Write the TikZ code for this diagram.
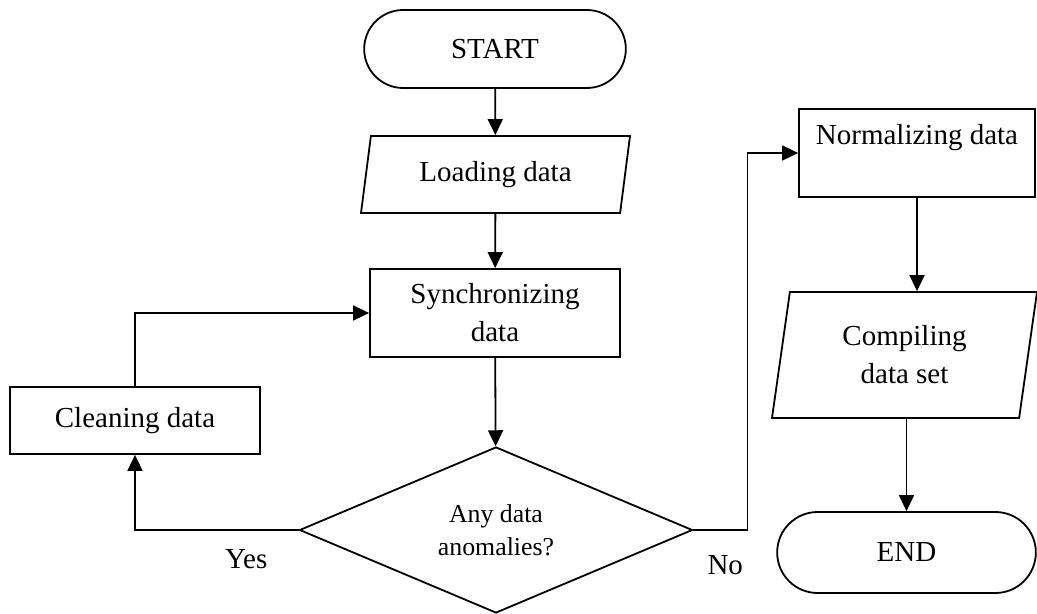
\documentclass[tikz,border=0pt]{standalone}
\usepackage{fontspec}
\setmainfont{Liberation Serif}
\usetikzlibrary{shapes.geometric,shapes.misc,arrows.meta}

\begin{document}
\begin{tikzpicture}[x=0.5pt,y=-0.5pt,line width=0.9pt,
    every node/.style={font=\fontsize{14.5}{19}\selectfont},
    term/.style={draw,rounded rectangle,minimum width=137.5pt,minimum height=39pt},
    proc/.style={draw,rectangle,align=center,minimum width=125pt,minimum height=44pt},
    io/.style={draw,trapezium,trapezium left angle=76,trapezium right angle=104,
        trapezium stretches body,align=center},
    decide/.style={draw,diamond,aspect=2.37,inner sep=1pt,align=center,
        font=\fontsize{12.9}{16.5}\selectfont,minimum width=196.5pt,minimum height=83pt},
    arr/.style={-{Triangle[length=8pt,width=7.5pt]}}]
    \useasboundingbox (0,0) rectangle (1037,614);
    \node[term] (start) at (495,49) {START};
    \node[io,minimum width=134.5pt,minimum height=38.5pt] (load) at (495.5,174.5) {Loading data};
    \node[proc] (sync) at (495,313) {Synchronizing\\data};
    \node[proc,minimum height=33.5pt] (clean) at (135,420.5) {Cleaning data};
    \node[decide] (check) at (496,530) {Any data\\anomalies?};
    \node[proc,minimum width=118pt] (norm) at (917,153) {Normalizing data\\{}};
    \node[io,minimum width=132.5pt,minimum height=63pt] (comp) at (904.5,355) {Compiling\\data set};
    \node[term,minimum width=136pt,minimum height=40.5pt] (endn) at (906.5,552.5) {END};
    \draw[arr] (start) -- (load);
    \draw[arr] (load) -- (sync);
    \draw[arr] (sync) -- (check);
    \draw[arr] (check.west) -| node[pos=0.16,below=6pt] {Yes} (clean.south);
    \draw[arr] (clean.north) |- (sync.west);
    \draw[arr] (check.east) -- node[pos=0.59,below=9pt] {No} ++(54,0) |- (norm.west);
    \draw[arr] (norm.south) -- (norm.south |- comp.north);
    \draw[arr] (endn.north |- comp.south) -- (endn.north);
\end{tikzpicture}
\end{document}
